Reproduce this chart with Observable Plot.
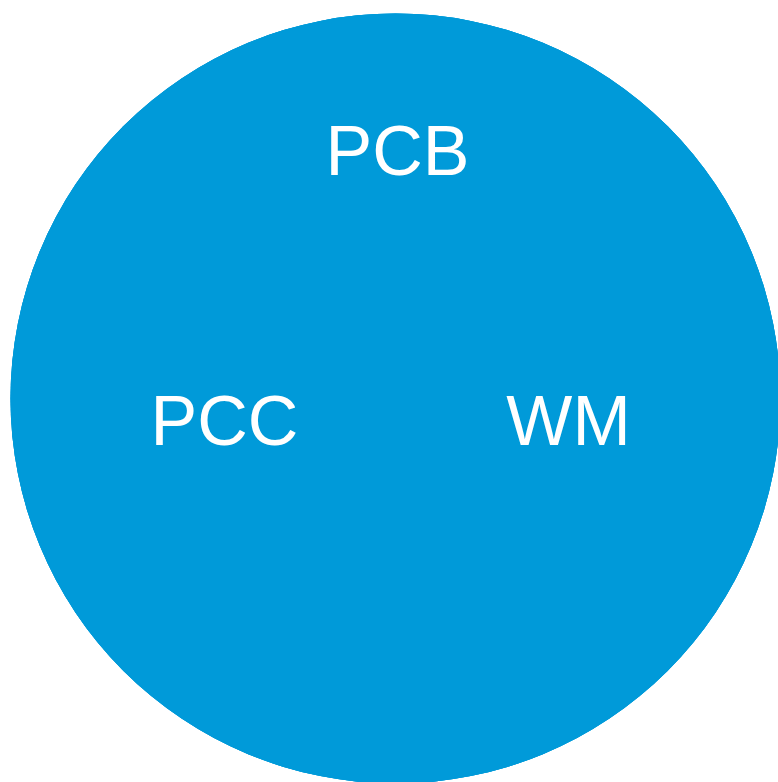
<!DOCTYPE html>
<html>
<head>
<meta charset="utf-8">
<script src="https://cdn.jsdelivr.net/npm/d3@7"></script>
<script src="https://cdn.jsdelivr.net/npm/@observablehq/plot@0.6"></script>
<style>
  html, body { margin: 0; padding: 0; background: #ffffff; overflow: hidden; }
  svg { display: block; }
</style>
</head>
<body>
<div id="chart"></div>
<script>
// Venn diagram: three sets that fully coincide
const sets = ["PCB", "PCC", "WM"];
const setSizes = [1, 1, 1];
// label anchor points (plot units, 0..778 x 0..782)
const labelX = [397, 224, 568];
const labelY = [152, 422, 422];
// circle centres (all coincide) and radius in plot units
const circleX = [395, 395, 395];
const circleY = [398, 398, 398];
const circleR = [385, 385, 385];

const W = 778, H = 782;
const circles = sets.map((s, i) => ({set: s, size: setSizes[i], x: circleX[i], y: circleY[i], r: circleR[i]}));
const labels = sets.map((s, i) => ({set: s, x: labelX[i], y: labelY[i]}));

const chart = Plot.plot({
  width: W,
  height: H,
  margin: 0,
  x: {domain: [0, W], axis: null},
  y: {domain: [0, H], range: [0, H], axis: null},
  r: {type: "identity"},
  style: {fontFamily: "'Liberation Sans', Arial, sans-serif", background: "#ffffff"},
  marks: [
    Plot.dot(circles, {x: "x", y: "y", r: "r", fill: "#009ad9", fillOpacity: 1, stroke: "none"}),
    Plot.text(labels, {x: "x", y: "y", text: "set", fill: "#ffffff", fontSize: 70, textAnchor: "middle", lineAnchor: "middle"})
  ]
});
document.getElementById("chart").appendChild(chart);
</script>
</body>
</html>
